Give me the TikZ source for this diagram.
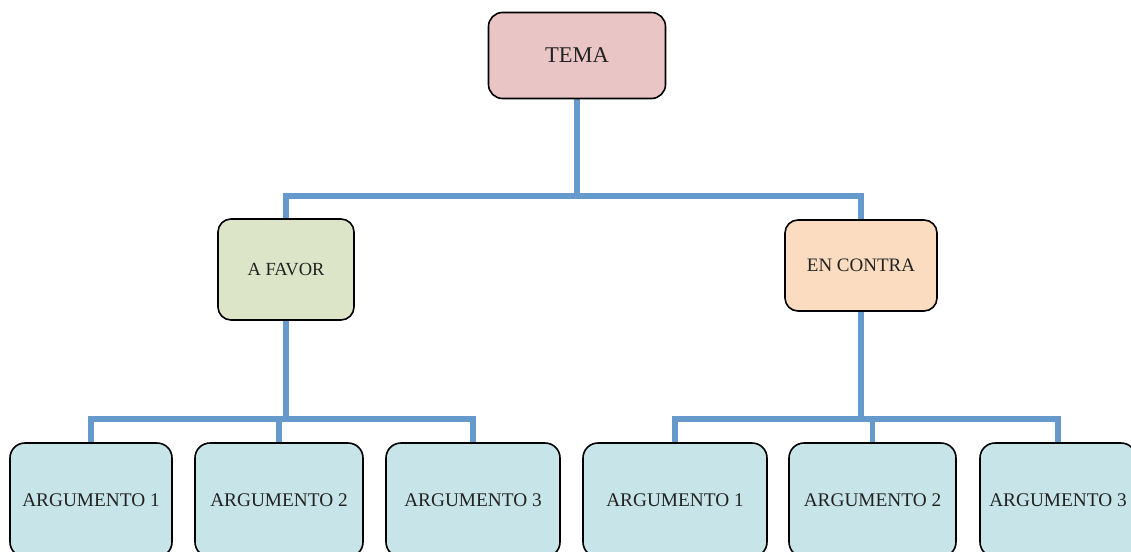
\documentclass[tikz,border=0pt]{standalone}
\usepackage{fontspec}
\setmainfont{Liberation Serif}
\usetikzlibrary{backgrounds}
\definecolor{temafill}{HTML}{EAC5C5}
\definecolor{favorfill}{HTML}{DDE5C8}
\definecolor{contrafill}{HTML}{FBDCC0}
\definecolor{argfill}{HTML}{C7E5E8}
\definecolor{conncol}{HTML}{6699CC}
\definecolor{txtcol}{HTML}{222222}
\begin{document}
\begin{tikzpicture}[x=1pt,y=-1pt,
  box/.style={draw=black,line width=1.6pt,rounded corners=14pt,text=txtcol,inner sep=0pt},
  conn/.style={draw=conncol,line width=5.5pt}]
\useasboundingbox (0,0) rectangle (1131,551);
\clip (0,0) rectangle (1131,551);
% nodes
\node[box,fill=temafill,minimum width=177pt,minimum height=86pt,font=\fontsize{22.5}{26}\selectfont] (tema) at (577,55.5) {TEMA};
\node[box,fill=favorfill,minimum width=136pt,minimum height=101pt,rounded corners=13pt,font=\fontsize{18.5}{22}\selectfont] (favor) at (286,269.5) {A FAVOR};
\node[box,fill=contrafill,minimum width=152pt,minimum height=91pt,rounded corners=13pt,font=\fontsize{19}{22}\selectfont] (contra) at (861,265.5) {EN CONTRA};
\tikzset{arg/.style={box,fill=argfill,minimum height=114pt,rounded corners=15pt,font=\fontsize{19.3}{23}\selectfont}}
\node[arg,minimum width=162pt] (a1) at (91,500) {ARGUMENTO 1};
\node[arg,minimum width=168pt] (a2) at (279,500) {ARGUMENTO 2};
\node[arg,minimum width=174pt] (a3) at (473,500) {ARGUMENTO 3};
\node[arg,minimum width=184pt] (b1) at (675,500) {ARGUMENTO 1};
\node[arg,minimum width=167pt] (b2) at (872.5,500) {ARGUMENTO 2};
\node[arg,minimum width=156pt] (b3) at (1058,500) {ARGUMENTO 3};
% junction coordinates
\coordinate (jt) at (577,196);
\coordinate (jf) at (286,419);
\coordinate (jc) at (861,419);
% connectors
\begin{scope}[on background layer]
\draw[conn] (tema.south) -- (jt);
\draw[conn] (jt) -| (favor.north);
\draw[conn] (jt) -| (contra.north);
\draw[conn] (favor.south) -- (jf);
\draw[conn] (jf) -| (a1.north);
\draw[conn] (jf) -| (a2.north);
\draw[conn] (jf) -| (a3.north);
\draw[conn] (contra.south) -- (jc);
\draw[conn] (jc) -| (b1.north);
\draw[conn] (jc) -| (b2.north);
\draw[conn] (jc) -| (b3.north);
\end{scope}
\end{tikzpicture}
\end{document}
